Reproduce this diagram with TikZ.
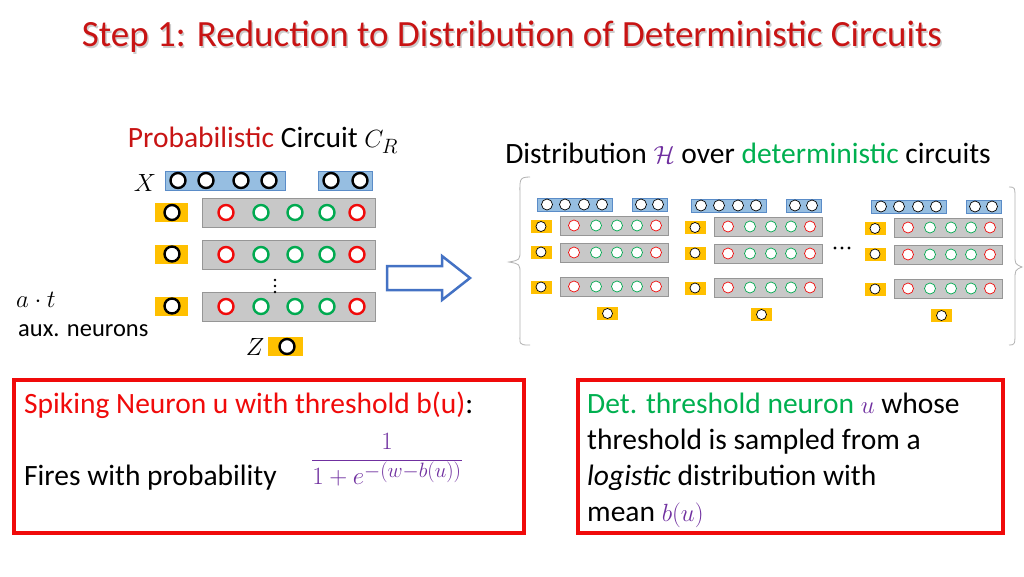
\documentclass[tikz,border=0pt]{standalone}
\usepackage{fontspec}
\setmainfont{Carlito}
\usetikzlibrary{decorations.pathreplacing}
\definecolor{tred}{RGB}{200,20,20}
\definecolor{bred}{RGB}{240,10,10}
\definecolor{ngreen}{RGB}{0,176,80}
\definecolor{cgreen}{RGB}{0,170,80}
\definecolor{mpurple}{RGB}{112,48,160}
\definecolor{bbar}{RGB}{150,190,225}
\definecolor{bbard}{RGB}{90,140,200}
\definecolor{ybox}{RGB}{255,192,0}
\definecolor{gbar}{RGB}{200,200,200}
\definecolor{gbard}{RGB}{150,150,150}
\definecolor{arrowc}{RGB}{68,114,196}
\tikzset{
 bluebar/.style={fill=bbar,draw=bbard,line width=0.6pt},
 greybar/.style={fill=gbar,draw=gbard,line width=0.6pt},
 yel/.style={fill=ybox},
 bigc/.style={fill=white,line width=2.4pt},
 smc/.style={fill=white,line width=0.7pt},
 txt/.style={font=\fontsize{29.5}{33}\selectfont,inner sep=0pt},
}
\begin{document}
\begin{tikzpicture}[x=1pt,y=-1pt]
\useasboundingbox[fill=white] (0,0) rectangle (1024,576);
% title
\node[font=\fontsize{37}{42}\selectfont,text=gray!40,inner sep=0] at (513.5,38.5) {Step 1: Reduction to Distribution of Deterministic Circuits};
\node[font=\fontsize{37}{42}\selectfont,text=tred,inner sep=0] (title) at (512,37) {Step 1: Reduction to Distribution of Deterministic Circuits};
% left circuit
\node[txt] (pc) at (263,140) {\textcolor{tred}{Probabilistic} Circuit $C_R$};
\node[txt,font=\fontsize{30}{32}\selectfont] (X) at (145,183) {$X$};
\draw[bluebar] (165,171) rectangle (285,190);
\draw[bluebar] (318,171) rectangle (372,190);
\foreach \x in {178,206,241,269,331,360} \draw[bigc] (\x,180.5) circle (7.5);
\foreach \yt/\yy in {198/212.5,240/254,292/306}{
  \draw[greybar] (202,\yt) rectangle (375,\yt+29);
  \fill[yel] (155,\yy-9.5) rectangle (188,\yy+9.5);
  \draw[bigc] (172,\yy) circle (7.5);
  \foreach \x/\c in {226/bred,261/cgreen,295/cgreen,327/cgreen,357/bred}
    \draw[bigc,draw=\c] (\x,\yt+14.5) circle (7.5);
}
\foreach \yy in {280,286,292} \fill (275,\yy) circle (1.3);
\node[txt,font=\fontsize{29}{32}\selectfont] (Z) at (255,347) {$Z$};
\fill[yel] (268,337) rectangle (303,356);
\draw[bigc] (287,346.5) circle (7.5);
\node[txt,font=\fontsize{25}{28}\selectfont] (at) at (36,300) {$a\cdot t$};
\node[txt,anchor=west,font=\fontsize{24.5}{28}\selectfont] (aux) at (18,331) {aux. neurons};
% block arrow
\draw[arrowc,line width=2.5pt,fill=white,line join=miter] (387,266) -- (442,266) -- (442,256) -- (470,278) -- (442,300) -- (442,290) -- (387,290) -- cycle;
% right
\node[txt] (dist) at (748,153) {Distribution $\textcolor{mpurple}{\mathcal{H}}$ over \textcolor{ngreen}{deterministic} circuits};
\draw[gray!60,line width=0.8pt] (530,177) .. controls (518,177) and (520,180) .. (520,200) -- (520,250) .. controls (520,260) .. (509,262) .. controls (520,264) .. (520,274) -- (520,330) .. controls (520,345) and (518,345) .. (530,345);
\draw[gray!60,line width=0.8pt] (1009,187) .. controls (1015,187) .. (1015,200) -- (1015,255) .. controls (1015,264) .. (1022,267) .. controls (1015,270) .. (1015,280) -- (1015,330) .. controls (1015,345) .. (1009,345);
\foreach \dx/\dy in {0/0,154/1,334/2}{
 \begin{scope}[shift={(\dx,\dy)}]
  \draw[bluebar] (537,198) rectangle (612,211);
  \draw[bluebar] (632,198) rectangle (667,211);
  \foreach \x in {547,565,584,602,641,658} \draw[smc] (\x,204.5) circle (5.5);
  \foreach \yt/\yy in {216/226.5,243/252,277/287}{
    \draw[greybar] (560,\yt) rectangle (668,\yt+19);
    \fill[yel] (531,\yy-6.5) rectangle (552,\yy+6.5);
    \draw[smc] (541,\yy) circle (5);
    \foreach \x/\c in {574/bred,596/cgreen,617/cgreen,637/cgreen,656/bred}
      \draw[smc,draw=\c] (\x,\yt+9.5) circle (5.5);
  }
  \fill[yel] (597,307) rectangle (618,320);
  \draw[smc] (607.5,313.5) circle (5);
 \end{scope}
}
\foreach \x in {835,842,849} \fill (\x,248) circle (1.6);
% bottom boxes
\draw[bred,line width=4pt] (14,380) rectangle (524,533);
\draw[bred,line width=4pt] (578,380) rectangle (1003,533);
\node[txt,anchor=base west] (sp) at (24,413) {\textcolor{bred}{Spiking Neuron u with threshold b(u)}:};
\node[txt,anchor=base west] (fp) at (24,485) {Fires with probability};
\node[txt,text=mpurple,font=\fontsize{31}{34}\selectfont] (frac) at (387,460) {$\displaystyle\frac{1}{1+e^{-(w-b(u))}}$};
\node[txt,anchor=base west] (r1) at (587,413) {\textcolor{ngreen}{Det. threshold neuron} \textcolor{mpurple}{$u$} whose};
\node[txt,anchor=base west] (r2) at (587,449) {threshold is sampled from a};
\node[txt,anchor=base west] (r3) at (587,485) {\textit{logistic} distribution with};
\node[txt,anchor=base west] (r4) at (587,521) {mean \textcolor{mpurple}{$b(u)$}};
\end{tikzpicture}
\end{document}
